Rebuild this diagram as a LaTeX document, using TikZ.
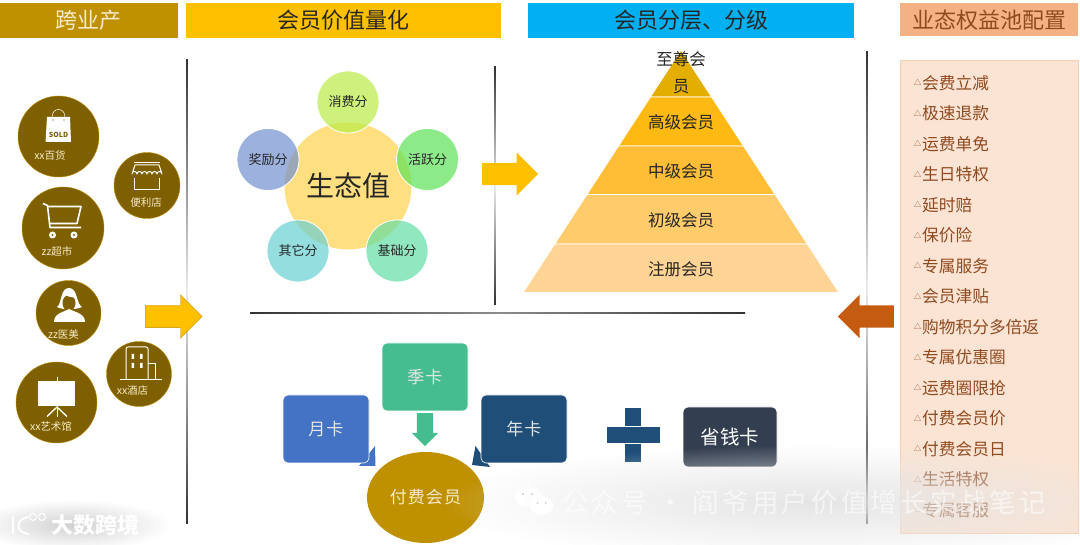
\documentclass[tikz,border=0pt]{standalone}
\usepackage{fontspec}
\setmainfont{Noto Sans CJK SC}
\newfontfamily\widefont[LetterSpace=6]{Noto Sans CJK SC}
\newfontfamily\markfont[LetterSpace=12]{Noto Sans CJK SC}
\usetikzlibrary{shapes.geometric, shapes.arrows, fadings}

\definecolor{gold}{HTML}{BF9000}
\definecolor{amber}{HTML}{FFC000}
\definecolor{sky}{HTML}{00B0F0}
\definecolor{peach}{HTML}{F4B183}
\definecolor{rust}{HTML}{C55A11}
\definecolor{olive}{HTML}{7F6000}
\definecolor{cream}{HTML}{F6EBCB}
\definecolor{navy}{HTML}{1F4E79}
\definecolor{royal}{HTML}{4472C4}
\definecolor{jade}{HTML}{46BD8F}
\definecolor{slate}{HTML}{333F50}
\definecolor{ink}{HTML}{262626}
\definecolor{perkink}{HTML}{8F4A1F}

\newcommand{\fsz}[1]{\fontsize{#1}{#1}\selectfont}
\tikzfading[name=softband, inner color=transparent!0, outer color=transparent!100]

\begin{document}
\begin{tikzpicture}[
    x=1pt, y=-1pt,
    header/.style={rectangle, minimum height=35pt, inner sep=0pt, font=\fsz{22}},
    badge/.style={circle, fill=olive, draw=gold, line width=0.4pt, inner sep=0pt},
    badgetext/.style={text=cream, inner sep=0pt, font=\fsz{10.5}},
    petal/.style={circle, draw=white, line width=0.8pt, fill opacity=0.7, text opacity=1, minimum size=62pt, inner sep=0pt, text=ink, font=\fsz{13}},
    tier/.style={text=ink, inner sep=0pt, font=\fsz{16.5}},
    card/.style={rectangle, rounded corners=5pt, draw=white, line width=0.6pt, minimum width=86pt, minimum height=68pt, inner sep=0pt, text=white!90!black, font=\widefont\fsz{17}},
    perk/.style={anchor=west, inner sep=0pt, text=perkink, font=\fsz{16.7}},
    blockarrow/.style={single arrow, single arrow head extend=10.5pt, minimum width=43pt, minimum height=57pt, inner xsep=0pt, inner ysep=11pt, anchor=tail},
    icon/.style={draw=white, line width=1pt, line join=round},
    vrule/.style={top color=black!80, bottom color=black!80, middle color=black!8},
    hrule/.style={left color=black!80, right color=black!80, middle color=black!45}
]

% White Background
\path [fill=white] (0, 0) rectangle (1080, 545);
\useasboundingbox (0, 0) rectangle (1080, 545);

% ==================== HEADERS ====================

\node[header, fill=gold, minimum width=178pt, text=cream] (head_cross) at (89, 20.5) {跨业产};
\node[header, fill=amber, minimum width=315pt, text=ink] (head_value) at (343.5, 20.5) {会员价值量化};
\node[header, fill=sky, minimum width=326pt, text=ink] (head_level) at (691, 20.5) {会员分层、分级};
\node[header, fill=peach, minimum width=178pt, minimum height=33pt, text=perkink] (head_pool) at (989, 20) {业态权益池配置};

% ==================== DIVIDERS ====================

\shade[vrule] (186.2, 60) rectangle (187.8, 523);
\shade[vrule] (494.2, 67) rectangle (495.8, 305);
\shade[vrule] (866.2, 52) rectangle (867.8, 523);
\shade[hrule] (250, 312.3) rectangle (745, 313.7);

% ==================== LEFT BADGES ====================

\node[badge, minimum size=81pt] (mall) at (58.5, 136.5) {};
\node[badge, minimum size=66pt] (shop) at (147, 185.5) {};
\node[badge, minimum size=82pt] (market) at (63, 228) {};
\node[badge, minimum size=65pt] (clinic) at (68.5, 313) {};
\node[badge, minimum size=65pt] (hotel) at (139, 374) {};
\node[badge, minimum size=81pt] (gallery) at (56.5, 402.5) {};

\node[badgetext] (mall_t) at (50, 155.5) {xx百货};
\node[badgetext] (shop_t) at (146, 203) {便利店};
\node[badgetext] (market_t) at (57, 251) {zz超市};
\node[badgetext] (clinic_t) at (63.5, 334) {zz医美};
\node[badgetext] (hotel_t) at (132.5, 391) {xx酒店};
\node[badgetext] (gallery_t) at (51, 426) {xx艺术馆};

% bag
\fill[white] (47, 117) -- (70, 117) -- (71, 142) -- (45.5, 142) -- cycle;
\draw[white, line width=0.5pt] (52, 117) .. controls (52, 107) and (65, 107) .. (65, 117);
\node[text=olive, inner sep=0pt, font=\bfseries\fsz{7}] (sold) at (58.5, 135) {SOLD};
\fill[olive!60] (53, 120) circle (0.8) (64, 120) circle (0.8);

% shop
\draw[icon] (134, 162.5) -- (160, 162.5);
\draw[icon] (135, 165) -- (159, 165) -- (162, 174)
    arc (0:-180:2.5) arc (0:-180:2.5) arc (0:-180:2.5) arc (0:-180:2.5) arc (0:-180:2.5) arc (0:-180:2.5) -- (135, 165);
\draw[icon] (134.5, 178) -- (134.5, 189.5) -- (159, 189.5) -- (159, 178);

% cart
\draw[icon, line width=1.6pt] (43, 203.5) -- (47.5, 205.5) -- (50, 227.5) -- (81, 227.5);
\draw[icon, line width=1.6pt] (48, 206.5) -- (81, 206.5) -- (77, 223.5) -- (50, 223.5);
\fill[white] (52.5, 235) circle (3.5) (74, 235) circle (3.5);
\fill[olive] (52.5, 235) circle (1.2) (74, 235) circle (1.2);

% person
\fill[white] (57, 307) .. controls (62, 304) and (60, 288) .. (69, 288) .. controls (78, 288) and (76, 304) .. (82, 307) .. controls (76, 310) and (62, 310) .. cycle;
\fill[olive] (69, 303) ellipse (6.5 and 8);
\fill[white] (54, 322) .. controls (54, 313) and (64, 312) .. (69, 309) .. controls (74, 312) and (85, 313) .. (85, 322) -- cycle;
\fill[white] (63, 293) -- (72, 291) -- (76, 298) .. controls (72, 297) and (66, 297) .. cycle;

% building
\draw[icon] (120, 379.5) -- (162, 379.5);
\draw[icon] (126, 379.5) -- (126, 349) arc (180:270:2) -- (146, 347) arc (270:360:2) -- (148, 379.5);
\draw[icon] (148, 364) -- (155, 364) -- (155, 379.5);
\fill[white] (131.5, 354) rectangle (134, 359) (140, 354) rectangle (142.5, 359) (131.5, 363) rectangle (134, 368) (140, 363) rectangle (142.5, 368);

% board
\fill[white] (56.5, 377) rectangle (58, 383);
\fill[white] (38, 381.5) rectangle (75, 406);
\fill[white] (56.5, 406) rectangle (58, 417);
\draw[icon, line width=1.3pt] (57, 407) -- (47, 416.5) (57, 407) -- (67, 416.5);

% Arrow into value
\node[blockarrow, fill=amber, draw=gold, line width=0.4pt] (arrow_left) at (145, 316.5) {};

% ==================== ECOLOGY VALUE ====================

\node[circle, fill=amber!50!white, minimum size=127pt, inner sep=0pt, text=ink, font=\fsz{28}] (eco) at (348, 186) {生态值};

\node[petal, fill={rgb,255:red,186;green,236;blue,71}] (spend) at (348, 102) {消费分};
\node[petal, fill={rgb,255:red,94;green,226;blue,88}] (active) at (427.5, 159.5) {活跃分};
\node[petal, fill={rgb,255:red,99;green,222;blue,165}] (base) at (397, 251) {基础分};
\node[petal, fill={rgb,255:red,104;green,208;blue,211}] (other) at (298, 251) {其它分};
\node[petal, fill={rgb,255:red,115;green,145;blue,208}] (reward) at (268, 159.5) {奖励分};

\node[blockarrow, fill=amber, minimum height=56pt] (arrow_mid) at (482, 174) {};

% ==================== PYRAMID ====================

\foreach \ytop/\ybot/\col in {50/97/E3AE00, 97/146/FFB913, 146/194.5/FFBE35, 194.5/244/FFCB6B, 244/292.5/FFD494} {
    \definecolor{tiercol}{HTML}{\col}
    \pgfmathsetmacro{\xa}{0.651*(\ytop-50)}
    \pgfmathsetmacro{\xb}{0.651*(\ybot-50)}
    \fill[tiercol, draw=white, line width=0.8pt] (681-\xa, \ytop) -- (681+\xa, \ytop) -- (681+\xb, \ybot) -- (681-\xb, \ybot) -- cycle;
}

\node[tier, align=center, font=\fontsize{16.5}{27}\selectfont] (t_top) at (681, 73) {至尊会\\员};
\node[tier] (t_high) at (681, 122) {高级会员};
\node[tier] (t_mid) at (681, 171) {中级会员};
\node[tier] (t_low) at (681, 220) {初级会员};
\node[tier] (t_reg) at (681, 269) {注册会员};

% ==================== PAID MEMBERS ====================

% hooks under the cards
\fill[royal] (375, 446) -- (375.5, 466) -- (359, 466) -- cycle;
\fill[navy] (475.5, 446) -- (472, 465) -- (490, 467) -- cycle;

\node[card, fill=royal] (month) at (326, 429) {月卡};
\node[card, fill=jade] (quarter) at (425, 377) {季卡};
\node[card, fill=navy] (year) at (524, 429) {年卡};

\node[ellipse, fill=gold, minimum width=117pt, minimum height=91pt, inner sep=0pt, text=cream, font=\widefont\fsz{17}] (paid) at (425.5, 497.5) {付费会员};

\node[blockarrow, fill=jade, minimum width=26pt, minimum height=33pt, single arrow head extend=5pt, inner xsep=8pt, inner ysep=8pt, shape border rotate=270] (arrow_card) at (425, 413) {};

% plus
\fill[navy] (625, 408) rectangle (641, 426);
\fill[navy] (607, 427) rectangle (660, 443);
\fill[navy] (625, 444) rectangle (641, 462);

\node[card, fill=slate, minimum width=94pt, minimum height=60pt, font=\fsz{19.5}, text=white] (saver) at (730, 437) {省钱卡};

% ==================== PERK POOL ====================

\node[rectangle, fill=peach!35!white, draw=peach!60!white, line width=0.5pt, minimum width=178pt, minimum height=473pt, inner sep=0pt] (pool) at (989, 296.5) {};

\node[blockarrow, fill=rust, minimum height=56pt, shape border rotate=180] (arrow_right) at (894, 316.5) {};

\foreach \i/\perktext in {0/会费立减, 1/极速退款, 2/运费单免, 3/生日特权, 4/延时赔, 5/保价险, 6/专属服务, 7/会员津贴, 8/购物积分多倍返, 9/专属优惠圈, 10/运费圈限抢, 11/付费会员价, 12/付费会员日, 13/生活特权, 14/专属客服} {
    \pgfmathsetmacro{\ypos}{83+30.5*\i}
    \node[perk] (perk\i) at (922, \ypos) {\perktext};
    \node[inner sep=0pt, text=perkink, font=\fsz{7.5}] (mark\i) at (917.5, \ypos-0.5) {△};
}

% ==================== WATERMARKS ====================

\fill[black!10, path fading=softband] (440, 445) rectangle (1180, 560);

\node[anchor=west, inner sep=0pt, text=white, text opacity=0.6, font=\markfont\fsz{26.5}] (mark_text) at (562, 502) {公众号 · 阎爷用户价值增长实战笔记};

% wechat bubbles
\fill[white, opacity=0.85] (528.5, 497) ellipse (13.5 and 10);
\fill[white] (541.5, 505.5) ellipse (11.5 and 9.5);
\fill[black!18] (523, 494) circle (1.2) (532, 494) circle (1.2) (537.5, 503) circle (1) (545.5, 503) circle (1);

% logo
\fill[black!18, path fading=softband] (-25, 500) rectangle (170, 550);
\draw[white, line width=1.8pt, line cap=round] (13, 517) -- (13, 533);
\draw[white, line width=1.8pt, line cap=round] (28, 517) .. controls (15, 519) and (15, 533) .. (29, 534);
\draw[white, line width=1pt] (33, 517) circle (3.5) (42, 517) circle (3.5);
\node[anchor=west, inner sep=0pt, text=white, font=\bfseries\fsz{22}] (logo_text) at (51, 525) {大数跨境};

\end{tikzpicture}
\end{document}
